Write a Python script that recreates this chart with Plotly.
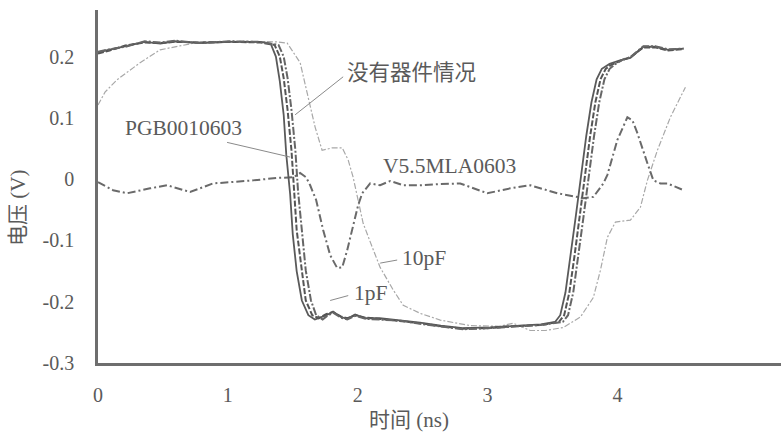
import plotly.graph_objects as go

# ---- data ----
x_tick_vals = [0, 1, 2, 3, 4]
y_tick_vals = [-0.3, -0.2, -0.1, 0, 0.1, 0.2]
y_tick_text = ["-0.3", "-0.2", "-0.1", "0", "0.1", "0.2"]

# no device (solid)
nodev_x = [0.00, 0.09, 0.21, 0.36, 0.48, 0.59, 0.79, 1.02, 1.25, 1.33, 1.37, 1.40, 1.43, 1.45, 1.48, 1.50, 1.53, 1.57, 1.62, 1.67,
           1.76, 1.81, 1.87, 1.92, 1.98, 2.06, 2.17, 2.33, 2.48, 2.64, 2.81, 3.02, 3.20, 3.41, 3.52,
           3.56, 3.60, 3.64, 3.68, 3.72, 3.76, 3.80, 3.84, 3.88, 3.94, 4.02, 4.10, 4.20, 4.29, 4.39, 4.51]
nodev_y = [0.207, 0.211, 0.217, 0.224, 0.221, 0.225, 0.222, 0.224, 0.224, 0.221, 0.200, 0.160, 0.105, 0.040, -0.025, -0.090, -0.150, -0.198, -0.222, -0.229,
           -0.222, -0.216, -0.225, -0.228, -0.221, -0.227, -0.227, -0.230, -0.234, -0.239, -0.243, -0.242, -0.240, -0.237, -0.233,
           -0.222, -0.185, -0.125, -0.060, 0.005, 0.070, 0.125, 0.163, 0.180, 0.188, 0.194, 0.198, 0.216, 0.216, 0.211, 0.213]

# PGB0010603 (dashed)
pgb_x = [0.00, 0.09, 0.21, 0.36, 0.48, 0.59, 0.79, 1.02, 1.25, 1.36, 1.40, 1.43, 1.46, 1.49, 1.51, 1.53, 1.57, 1.60, 1.65, 1.70,
         1.76, 1.81, 1.87, 1.92, 1.98, 2.06, 2.17, 2.33, 2.48, 2.64, 2.81, 3.02, 3.20, 3.41, 3.55,
         3.59, 3.63, 3.67, 3.71, 3.75, 3.79, 3.83, 3.87, 3.91, 3.95, 4.02, 4.10, 4.20, 4.29, 4.39, 4.51]
pgb_y = [0.205, 0.210, 0.218, 0.223, 0.222, 0.224, 0.223, 0.224, 0.223, 0.219, 0.200, 0.165, 0.113, 0.047, -0.018, -0.083, -0.149, -0.198, -0.222, -0.227,
         -0.220, -0.217, -0.224, -0.227, -0.222, -0.226, -0.228, -0.231, -0.235, -0.240, -0.244, -0.243, -0.240, -0.238, -0.233,
         -0.222, -0.185, -0.125, -0.060, 0.005, 0.070, 0.125, 0.163, 0.180, 0.186, 0.193, 0.199, 0.215, 0.215, 0.210, 0.212]

# 1pF (dash-dot)
c1pf_x = [0.00, 0.09, 0.21, 0.36, 0.48, 0.59, 0.79, 1.02, 1.25, 1.39, 1.43, 1.46, 1.49, 1.52, 1.54, 1.57, 1.60, 1.64, 1.68, 1.73,
          1.76, 1.81, 1.87, 1.92, 1.98, 2.06, 2.17, 2.33, 2.48, 2.64, 2.81, 3.02, 3.20, 3.41, 3.58,
          3.62, 3.66, 3.70, 3.74, 3.78, 3.82, 3.86, 3.90, 3.94, 3.98, 4.04, 4.10, 4.20, 4.29, 4.39, 4.51]
c1pf_y = [0.208, 0.212, 0.216, 0.225, 0.223, 0.226, 0.222, 0.225, 0.224, 0.219, 0.200, 0.165, 0.113, 0.047, -0.018, -0.083, -0.149, -0.198, -0.222, -0.229,
          -0.224, -0.218, -0.226, -0.229, -0.223, -0.228, -0.229, -0.231, -0.236, -0.240, -0.245, -0.243, -0.241, -0.238, -0.233,
          -0.222, -0.185, -0.125, -0.060, 0.005, 0.070, 0.125, 0.163, 0.180, 0.187, 0.195, 0.199, 0.217, 0.217, 0.212, 0.213]

# 10pF (thin light)
c10pf_x = [0.000, 0.054, 0.146, 0.324, 0.478, 0.786, 1.094, 1.380, 1.457, 1.557, 1.618, 1.672, 1.726, 1.803, 1.881, 1.927,
           1.965, 2.004, 2.042, 2.112, 2.173, 2.274, 2.351, 2.482, 2.636, 2.867, 3.098, 3.198, 3.329, 3.445, 3.584,
           3.715, 3.815, 3.869, 3.923, 3.985, 4.100, 4.177, 4.231, 4.308, 4.408, 4.524]
c10pf_y = [0.121, 0.142, 0.162, 0.190, 0.211, 0.224, 0.225, 0.224, 0.222, 0.190, 0.134, 0.085, 0.047, 0.051, 0.051, 0.031,
           0.003, -0.034, -0.072, -0.111, -0.144, -0.181, -0.206, -0.219, -0.230, -0.239, -0.240, -0.235, -0.247, -0.247, -0.242,
           -0.225, -0.193, -0.149, -0.095, -0.070, -0.067, -0.046, -0.002, 0.047, 0.101, 0.150]

# V5.5MLA0603 (dash-dot)
v55_x = [0.000, 0.116, 0.224, 0.324, 0.401, 0.532, 0.632, 0.709, 0.886, 1.040, 1.195, 1.380, 1.503, 1.557, 1.603, 1.634,
         1.680, 1.734, 1.788, 1.842, 1.881, 1.919, 1.958, 2.004, 2.035, 2.096, 2.173, 2.250, 2.351, 2.482, 2.636,
         2.790, 2.998, 3.175, 3.329, 3.538, 3.738, 3.815, 3.892, 3.923, 4.000, 4.077, 4.116, 4.154, 4.231, 4.277,
         4.331, 4.385, 4.509]
v55_y = [-0.005, -0.018, -0.023, -0.018, -0.015, -0.010, -0.016, -0.021, -0.007, -0.005, -0.002, 0.002, 0.003, 0.010, 0.003, -0.010,
         -0.034, -0.083, -0.124, -0.145, -0.144, -0.116, -0.083, -0.042, -0.023, -0.007, -0.010, -0.003, -0.010, -0.010, -0.008,
         -0.007, -0.023, -0.015, -0.010, -0.023, -0.031, -0.029, -0.007, 0.007, 0.064, 0.101, 0.096, 0.075, 0.026, -0.002,
         -0.007, -0.007, -0.018]

FONT = "Liberation Serif, Times New Roman, Noto Sans CJK SC, serif"
TXT = "#5a5a5a"

fig = go.Figure()
fig.add_trace(go.Scatter(x=c10pf_x, y=c10pf_y, mode="lines",
                         line=dict(color="#a8a8a8", width=1.2, dash="6px,2px,2px,2px"), name="10pF"))
fig.add_trace(go.Scatter(x=v55_x, y=v55_y, mode="lines",
                         line=dict(color="#6a6a6a", width=2, dash="8px,3px,2px,3px"), name="V5.5MLA0603"))
fig.add_trace(go.Scatter(x=nodev_x, y=nodev_y, mode="lines",
                         line=dict(color="#5a5a5a", width=1.8), name="没有器件情况"))
fig.add_trace(go.Scatter(x=pgb_x, y=pgb_y, mode="lines",
                         line=dict(color="#555555", width=2, dash="6px,2px"), name="PGB0010603"))
fig.add_trace(go.Scatter(x=c1pf_x, y=c1pf_y, mode="lines",
                         line=dict(color="#666666", width=2, dash="8px,2px,2px,2px"), name="1pF"))

labels = [
    ("没有器件情况", 1.904, 0.173, 1.888, 0.167, 1.518, 0.105),
    ("PGB0010603", 0.193, 0.083, 0.994, 0.060, 1.480, 0.036),
    ("V5.5MLA0603", 2.181, 0.021, None, None, None, None),
    ("10pF", 2.328, -0.129, 2.304, -0.132, 2.173, -0.137),
    ("1pF", 1.958, -0.186, 1.927, -0.190, 1.788, -0.198),
]
for text, tx, ty, x0, y0, x1, y1 in labels:
    fig.add_annotation(x=tx, y=ty, text=text, showarrow=False, xanchor="left", yanchor="middle",
                       font=dict(family=FONT, size=21.5, color=TXT))
    if x0 is not None:
        fig.add_shape(type="line", x0=x0, y0=y0, x1=x1, y1=y1, line=dict(color="#8a8a8a", width=1))

# axis titles
fig.add_annotation(xref="paper", yref="paper", x=(409 - 98) / 683, y=-(420 - 363) / 353,
                   text="时间 (ns)", showarrow=False, xanchor="center", yanchor="middle",
                   font=dict(family=FONT, size=21, color=TXT))
fig.add_annotation(xref="paper", yref="paper", x=-(98 - 18) / 683, y=(363 - 208) / 353,
                   text="电压 (V)", showarrow=False, textangle=-90, xanchor="center", yanchor="middle",
                   font=dict(family=FONT, size=21, color=TXT))

fig.update_layout(
    width=781, height=434,
    margin=dict(l=98, r=0, t=10, b=71),
    paper_bgcolor="white", plot_bgcolor="white",
    showlegend=False,
    font=dict(family=FONT, size=20, color=TXT),
)
fig.update_xaxes(range=[0, 5.26], tickvals=x_tick_vals, ticks="", showgrid=False, zeroline=False,
                 showline=True, linecolor="#6e6e6e", linewidth=2.5, ticklabelstandoff=12, automargin=False,
                 tickfont=dict(family=FONT, size=20, color=TXT))
fig.update_yaxes(range=[-0.3, 0.276], tickvals=y_tick_vals, ticktext=y_tick_text, ticks="", showgrid=False,
                 zeroline=False, showline=True, linecolor="#6e6e6e", linewidth=2.5, ticklabelstandoff=17,
                 automargin=False, tickfont=dict(family=FONT, size=20, color=TXT))

fig.write_html("out.html", config={"displayModeBar": False},
               post_script="document.body.style.margin='0px';document.body.style.overflow='hidden';")
